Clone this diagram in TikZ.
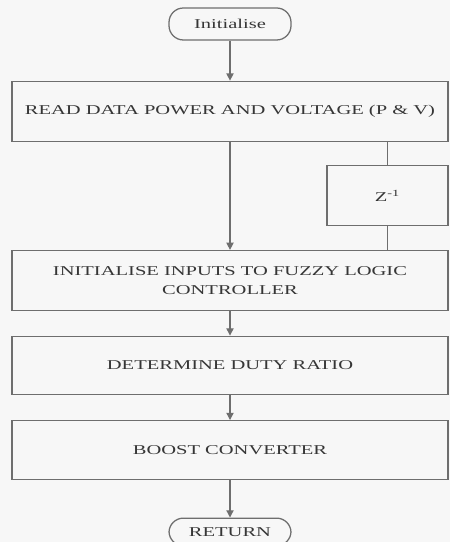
\documentclass[tikz,border=0pt]{standalone}
\usepackage{fontspec}
\newfontfamily\diagfont[FakeStretch=1.52]{Liberation Serif}
\usetikzlibrary{positioning,arrows.meta,calc,backgrounds}
\definecolor{linegray}{HTML}{6E6E6E}
\definecolor{txtgray}{HTML}{363636}
\definecolor{paper}{HTML}{F7F7F7}

\begin{document}
\begin{tikzpicture}[
  node distance=6.1mm,
  term/.style={draw=linegray, line width=0.9pt, rounded corners=3.6mm,
               minimum width=30.5mm, minimum height=8mm,
               font=\diagfont\fontsize{9.6}{10}\selectfont, text=txtgray,
               fill=paper},
  proc/.style={draw=linegray, line width=0.9pt, minimum width=109mm,
               minimum height=15mm, align=center, fill=paper,
               font=\diagfont\fontsize{9.6}{13}\selectfont, text=txtgray},
  delay/.style={draw=linegray, line width=0.9pt, minimum width=30.25mm,
                minimum height=15mm, fill=paper,
                font=\diagfont\fontsize{9.6}{11}\selectfont, text=txtgray},
  flow/.style={-{Triangle[length=1.8mm,width=1.8mm]}, line width=0.9pt,
               linegray},
  link/.style={line width=0.9pt, linegray}
]
  \clip (0,0) rectangle (11.25,-13.55);
  \fill[paper] (0,0) rectangle (11.25,-13.55);

  % Main column
  \node[term] (start) at (5.75,-0.6) {Initialise};
  \node[proc, below=10mm of start] (read)
    {READ DATA POWER AND VOLTAGE (P \& V)};
  \node[proc, below=27mm of read] (fuzzy)
    {INITIALISE INPUTS TO FUZZY LOGIC\\CONTROLLER};
  \node[proc, below=of fuzzy, minimum height=14.6mm] (duty)
    {DETERMINE DUTY RATIO};
  \node[proc, below=6.2mm of duty, minimum height=14.8mm] (boost)
    {BOOST CONVERTER};
  \node[term, below=9.25mm of boost, minimum height=6.9mm] (ret) {RETURN};

  % Delay branch
  \node[delay, anchor=north east] (delay)
    at ($(read.south east)+(0,-5.75mm)$) {Z\textsuperscript{-1}};

  % Connectors
  \draw[flow] (start) -- (read);
  \draw[flow] (read) -- (fuzzy);
  \draw[flow] (fuzzy) -- (duty);
  \draw[flow] (duty) -- (boost);
  \draw[flow] (boost) -- (ret);
  \draw[link] (delay.north) -- (delay.north |- read.south);
  \draw[link] (delay.south) -- (delay.south |- fuzzy.north);
\end{tikzpicture}
\end{document}
